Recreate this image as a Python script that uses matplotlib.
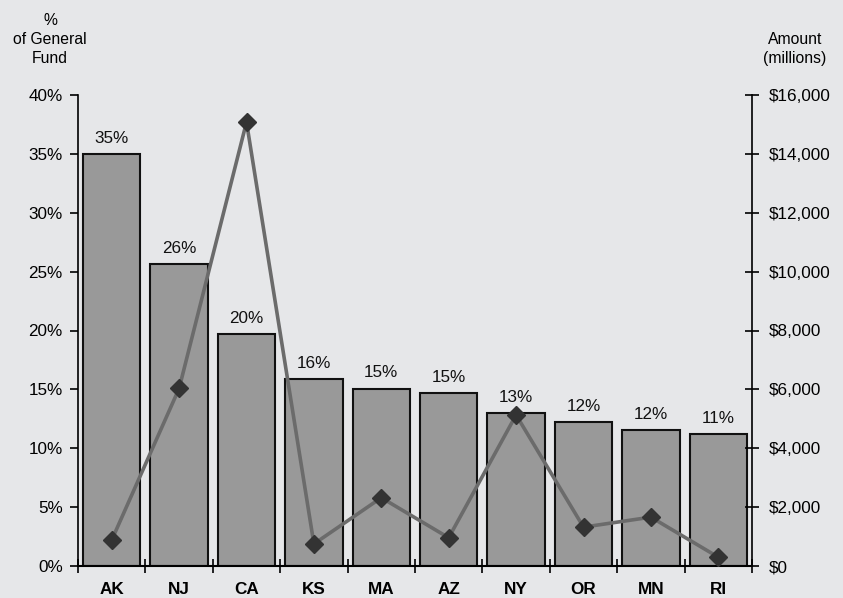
import matplotlib.pyplot as plt
import numpy as np
from matplotlib.ticker import FuncFormatter, FixedLocator

plt.rcParams['font.family'] = ['Liberation Sans', 'DejaVu Sans']

# data
states = ["AK", "NJ", "CA", "KS", "MA", "AZ", "NY", "OR", "MN", "RI"]
pct_general_fund = [35.0, 25.65, 19.7, 15.85, 15.05, 14.7, 13.0, 12.2, 11.55, 11.2]
pct_labels = ["35%", "26%", "20%", "16%", "15%", "15%", "13%", "12%", "12%", "11%"]
amount_millions = [880, 6030, 15080, 750, 2320, 960, 5130, 1320, 1660, 300]

bg = "#e6e7e9"
fs = 12.3
fig = plt.figure(figsize=(8.43, 5.98), dpi=100, facecolor=bg)
ax = fig.add_axes([78 / 843, 32 / 598, 674 / 843, 471 / 598])
ax.set_facecolor(bg)

x = np.arange(len(states))
ax.bar(x, pct_general_fund, width=0.85, color="#999999",
       edgecolor="#111111", linewidth=1.5, zorder=2)
for xi, v, lab in zip(x, pct_general_fund, pct_labels):
    ax.annotate(lab, (xi, v), xytext=(0, 6), textcoords="offset points",
                ha="center", va="bottom", fontsize=fs, color="#111111")

ax.set_xlim(-0.5, len(states) - 0.5)
ax.set_ylim(0, 40)
ax.set_yticks(np.arange(0, 41, 5))
ax.yaxis.set_major_formatter(FuncFormatter(lambda v, p: f"{v:.0f}%"))
ax.set_xticks(x)
ax.set_xticklabels(states, fontweight="bold", fontsize=fs)
ax.tick_params(axis="x", which="major", length=0, pad=11.5)
ax.xaxis.set_minor_locator(FixedLocator(np.arange(-0.5, len(states), 1.0)))
ax.tick_params(axis="x", which="minor", length=10, width=1.2, direction="inout")
ax.tick_params(axis="y", length=6, width=1.2, direction="out", labelsize=fs, pad=5)

for s in ["top", "right"]:
    ax.spines[s].set_visible(False)
ax.spines["left"].set_linewidth(1.2)
ax.spines["bottom"].set_linewidth(1.5)

ax2 = ax.twinx()
ax2.plot(x, amount_millions, color="#6b6b6b", linewidth=2.6,
         marker="D", markersize=9.5, markerfacecolor="#333333",
         markeredgecolor="#333333", zorder=3)
ax2.set_ylim(0, 16000)
ax2.set_yticks(np.arange(0, 16001, 2000))
ax2.yaxis.set_major_formatter(FuncFormatter(lambda v, p: f"${v:,.0f}"))
ax2.tick_params(axis="y", length=10, width=1.2, direction="inout", labelsize=fs, pad=7)
for s in ["top", "left", "bottom"]:
    ax2.spines[s].set_visible(False)
ax2.spines["right"].set_linewidth(1.2)

fig.text(50 / 843, 1 - 13 / 598, "%\nof General\nFund", ha="center", va="top",
         fontsize=11.3, linespacing=1.32)
fig.text(795 / 843, 1 - 32 / 598, "Amount\n(millions)", ha="center", va="top",
         fontsize=11.3, linespacing=1.32)

plt.savefig("out.png", facecolor=bg)
plt.close(fig)
